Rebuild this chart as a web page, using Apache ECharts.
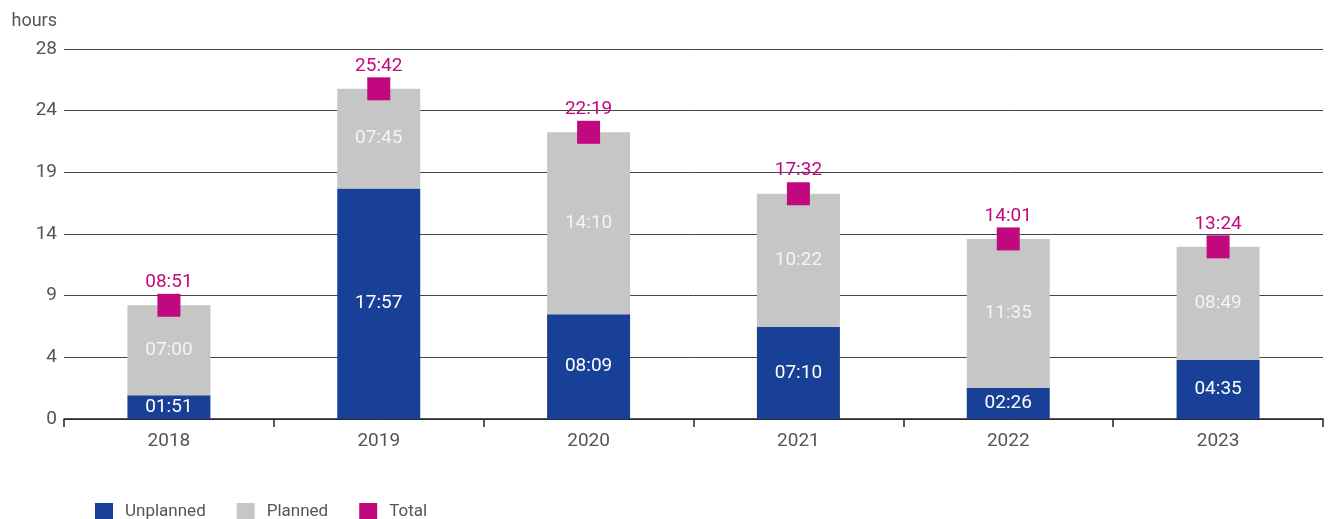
<!DOCTYPE html>
<html>
<head>
<meta charset="utf-8">
<script src="https://cdn.jsdelivr.net/npm/echarts@6/dist/echarts.min.js"></script>
<style>
  html, body { margin: 0; padding: 0; background: #fff; }
  #chart { width: 1330px; height: 519px; }
</style>
</head>
<body>
<div id="chart"></div>
<script>
// data (hh:mm)
var years = ['2018', '2019', '2020', '2021', '2022', '2023'];
var unplanned = ['01:51', '17:57', '08:09', '07:10', '02:26', '04:35'];
var planned = ['07:00', '07:45', '14:10', '10:22', '11:35', '08:49'];
var total = ['08:51', '25:42', '22:19', '17:32', '14:01', '13:24'];
var yTickLabels = ['0', '4', '9', '14', '19', '24', '28'];

function toHours(s) {
    var p = s.split(':');
    return Number(p[0]) + Number(p[1]) / 60;
}

var font = 'Roboto';
var chart = echarts.init(document.getElementById('chart'));

var option = {
    animation: false,
    textStyle: { fontFamily: font },
    grid: { left: 64, right: 7, top: 49, bottom: 100 },
    legend: {
        left: 90,
        top: 498,
        icon: 'rect',
        itemWidth: 18,
        itemHeight: 18,
        itemGap: 31,
        textStyle: { fontFamily: font, fontSize: 17, color: '#555', padding: [0, 0, 0, 7] },
        data: ['Unplanned', 'Planned', 'Total']
    },
    xAxis: {
        type: 'category',
        data: years,
        axisLine: { lineStyle: { color: '#222', width: 1.5 } },
        axisTick: { show: true, length: 8, lineStyle: { color: '#222', width: 1.5 } },
        axisLabel: { fontFamily: font, fontSize: 19, color: '#555', margin: 13 }
    },
    yAxis: {
        type: 'value',
        min: 0,
        max: 28.8,
        interval: 4.8,
        name: 'hours',
        nameLocation: 'end',
        nameGap: 19,
        nameTextStyle: { fontFamily: font, fontSize: 18, color: '#555', align: 'right', padding: [0, 7, 0, 0] },
        axisLine: { show: false },
        axisTick: { show: false },
        splitLine: { lineStyle: { color: '#444', width: 1 } },
        axisLabel: {
            fontFamily: font, fontSize: 19, color: '#555', margin: 7,
            formatter: function (v) {
                return yTickLabels[Math.round(v / 4.8)];
            }
        }
    },
    series: [
        {
            name: 'Unplanned',
            type: 'bar',
            stack: 'h',
            barWidth: 83,
            itemStyle: { color: '#174096' },
            label: {
                show: true, position: 'inside', color: '#fff', fontFamily: font, fontSize: 19,
                formatter: function (p) { return unplanned[p.dataIndex]; }
            },
            data: unplanned.map(toHours)
        },
        {
            name: 'Planned',
            type: 'bar',
            stack: 'h',
            barWidth: 83,
            itemStyle: { color: '#c6c6c6' },
            label: {
                show: true, position: 'inside', color: '#f4f4f4', fontFamily: font, fontSize: 19,
                formatter: function (p) { return planned[p.dataIndex]; }
            },
            data: planned.map(toHours)
        },
        {
            name: 'Total',
            type: 'scatter',
            symbol: 'rect',
            symbolSize: 23,
            itemStyle: { color: '#c2087f', opacity: 1 },
            label: {
                show: true, position: 'top', distance: 2, color: '#c2087f', fontFamily: font, fontSize: 19,
                formatter: function (p) { return total[p.dataIndex]; }
            },
            z: 5,
            data: total.map(toHours)
        }
    ]
};

chart.setOption(option);
window.addEventListener('resize', function () { chart.resize(); });
</script>
</body>
</html>
